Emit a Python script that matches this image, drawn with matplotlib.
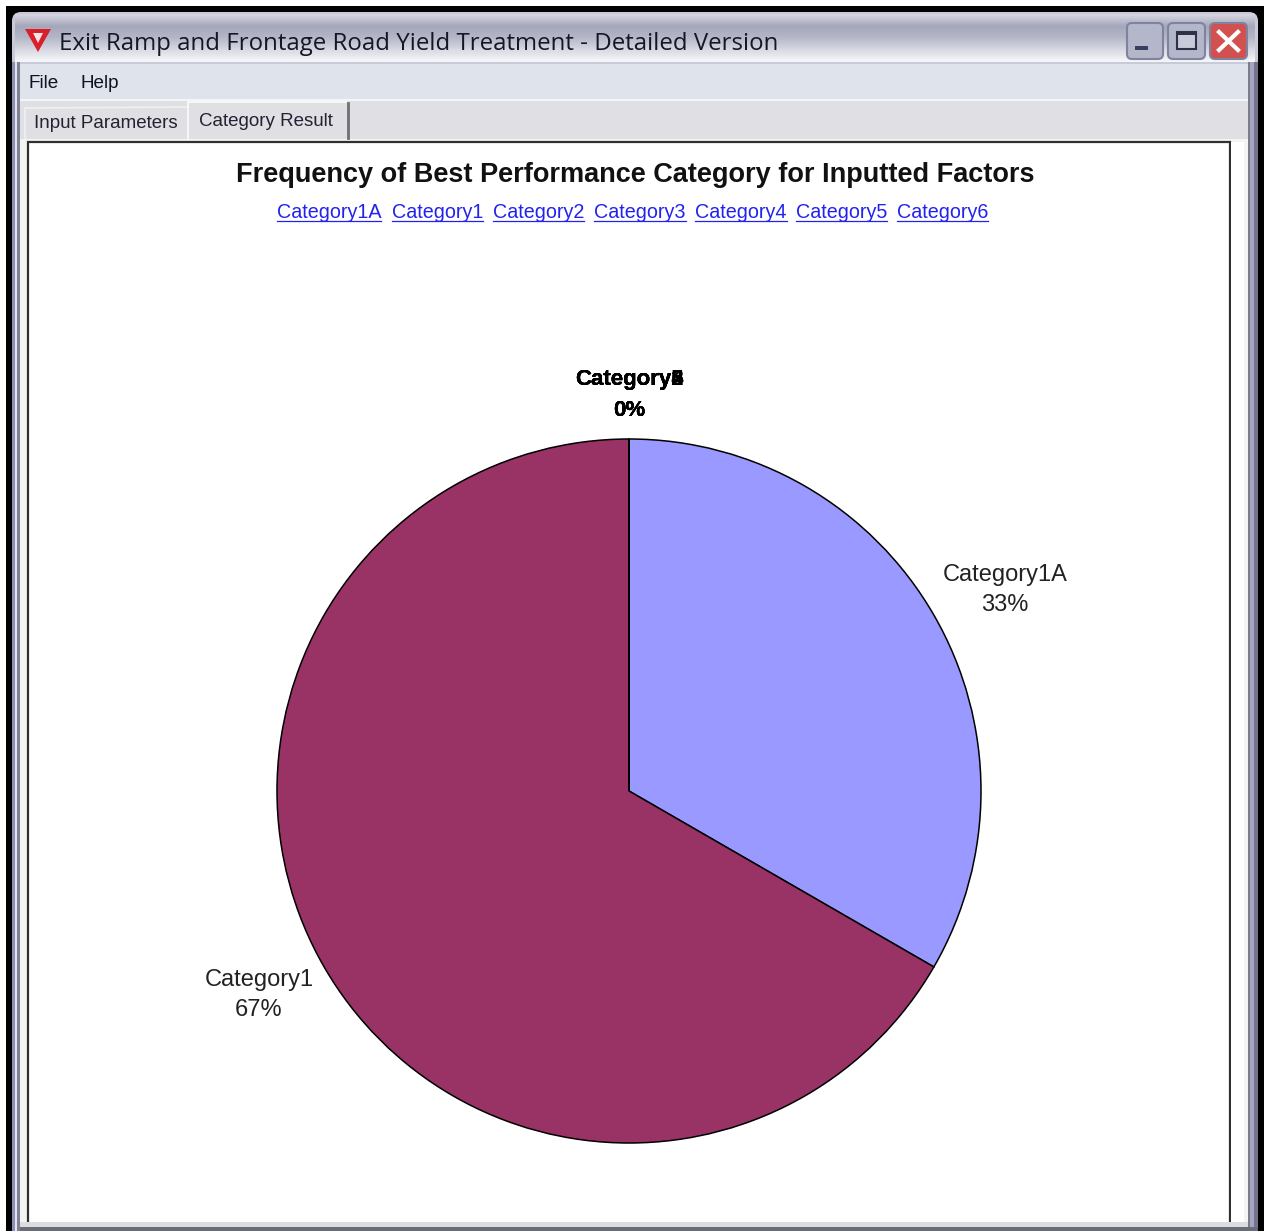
import numpy as np
import matplotlib
matplotlib.use("Agg")
import matplotlib.pyplot as plt
from matplotlib.colors import LinearSegmentedColormap
from matplotlib.patches import Rectangle, FancyBboxPatch, Polygon

window_title = "Exit Ramp and Frontage Road Yield Treatment - Detailed Version"
menu_items = ["File", "Help"]
tab_names = ["Input Parameters", "Category Result"]
chart_title = "Frequency of Best Performance Category for Inputted Factors"

categories = ["Category1A", "Category1", "Category2", "Category3", "Category4", "Category5", "Category6"]
shares = [33.33, 66.67, 0, 0, 0, 0, 0]
share_labels = ["33%", "67%", "0%", "0%", "0%", "0%", "0%"]
colors = ["#9999FF", "#993366", "#FFFFCC", "#CCFFFF", "#660066", "#FF8080", "#0066CC"]

W, H = 1264, 1231
fig = plt.figure(figsize=(W / 100, H / 100), dpi=100, facecolor="white")
bg = fig.add_axes([0, 0, 1, 1])
bg.axis("off")


def box(x0, y0, x1, y1, color, z=1):
    bg.add_patch(Rectangle((x0, y0), x1 - x0, y1 - y0, facecolor=color, edgecolor="none", zorder=z))


# black frame around the screenshot
box(6, 6, W, H, "black")

# window body with its side borders
bg.add_patch(FancyBboxPatch((12, 12), 1246, 1300, boxstyle="round,pad=0,rounding_size=9", mutation_scale=1,
                            facecolor="#C9CAD8", edgecolor="none", zorder=2))
grad = LinearSegmentedColormap.from_list("t", ["#D5D6E0", "#A4A6BA", "#B6B8C9", "#D8D9E2", "#F6F7F9"])
bg.imshow(np.linspace(0, 1, 50).reshape(-1, 1), extent=(15, 1255, 62, 14), aspect="auto", zorder=3, cmap=grad)
bg.set_xlim(0, W)
bg.set_ylim(H, 0)
box(12, 62, 15, H, "#8D8FB5", z=3)
box(15, 62, 17, H, "#E4E5EC", z=3)
box(17, 62, 20, H, "#7F8094", z=3)
box(1254, 62, 1258, H, "#74758A", z=3)
box(1250, 62, 1254, H, "#A3A5C2", z=3)
box(1248, 62, 1250, H, "#7C7D88", z=3)
box(20, 64, 1248, 99, "#DFE3EC", z=3)
box(20, 99, 1248, 101, "#F4F5F8", z=3)
box(20, 101, 1248, 139, "#E0DFE3", z=3)
box(20, 139, 1248, 1222, "#F4F4F2", z=3)

# content panel, the bottom bar covers its lower end
bg.add_patch(Rectangle((28, 141.5), 1202, 1200, facecolor="white", edgecolor="#303030", lw=1.6, zorder=4))
box(1231, 142, 1244, 1222, "white", z=4)
box(20, 1222, 1248, 1227, "#DDDDE0", z=5)
box(20, 1227, 1258, H, "#6A6C7A", z=5)

# title bar icon and text
bg.add_patch(Polygon([[25, 29], [51, 29], [38, 52]], facecolor="#D81F2A", edgecolor="none", zorder=5))
bg.add_patch(Polygon([[33, 33], [43, 33], [38, 43]], facecolor="#FBE4E4", edgecolor="none", zorder=6))
bg.text(59, 44.5, window_title, fontsize=17.3, family="Open Sans", fontweight="medium", color="#141826", va="center",
        ha="left", zorder=6)

# window buttons
for x0, x1, c in [(1127, 1163, "#B4B6CA"), (1168, 1205, "#B4B6CA"), (1210, 1247, "#D2504F")]:
    bg.add_patch(FancyBboxPatch((x0, 23), x1 - x0, 36, boxstyle="round,pad=0,rounding_size=5",
                                mutation_scale=1, facecolor=c, edgecolor="#7F83A0", lw=1.5, zorder=5))
box(1135, 46, 1148, 50, "#3A3D60", z=6)
bg.add_patch(Rectangle((1177, 32), 19, 17, facecolor="#C8CADA", edgecolor="#2E3048", lw=1.5, zorder=6))
box(1177, 32, 1196, 35, "#2E3048", z=6)
bg.plot([1219, 1238], [32, 50], color="white", lw=3, zorder=6)
bg.plot([1238, 1219], [32, 50], color="white", lw=3, zorder=6)

# menu
for name, x in zip(menu_items, [29, 80]):
    bg.text(x, 83, name, fontsize=13.6, family="Liberation Sans", color="#111122", va="center", zorder=6)

# tabs
box(25, 107, 188, 138, "#E0DFE3", z=5)
bg.plot([25, 25, 186, 188], [138, 108, 107, 107], color="#F0F0F2", lw=1.2, zorder=5)
bg.plot([188, 188, 346], [138, 102, 102], color="#F6F6F6", lw=1.5, zorder=5)
bg.plot([347.5, 347.5], [103, 138], color="#6F6F6F", lw=2, zorder=5)
bg.text(34, 124, tab_names[0], fontsize=13.5, family="Liberation Sans", color="#222233", va="center", zorder=6)
bg.text(199, 121, tab_names[1], fontsize=13.5, family="Liberation Sans", color="#222233", va="center", zorder=6)

# chart heading and links
bg.text(635, 175, chart_title, fontsize=19.5, fontweight="bold", family="Liberation Sans", color="#111111",
        ha="center", va="center", zorder=6)
link_x = [277, 392, 493, 594, 695, 796, 897]
link_w = [104, 91, 91, 92, 92, 91, 91]
for name, x, w in zip(categories, link_x, link_w):
    bg.text(x, 213, name, fontsize=14.2, family="Liberation Sans", color="#2222EE", va="center", zorder=6)
    bg.plot([x, x + w], [221, 221], color="#2222EE", lw=0.9, zorder=6)

# pie
R = 352
cx, cy = 629, 791
ax = fig.add_axes([(cx - R) / W, 1 - (cy + R) / H, 2 * R / W, 2 * R / H], zorder=5)
ax.pie(shares, colors=colors, startangle=90, counterclock=False, radius=1,
       wedgeprops={"edgecolor": "black", "linewidth": 1.1})
ax.set_xlim(-1, 1)
ax.set_ylim(-1, 1)
ax.set_aspect("equal")

# pie labels, the zero slices all land on the same spot at the top
label_pos = [(1005, 590), (259, 995), (629, 395), (629, 395), (629, 395), (629, 395), (629, 395)]
for name, lab, (x, y) in zip(categories, share_labels, label_pos):
    zero = lab == "0%"
    col = "black" if zero else "#222222"
    wt = "bold" if zero else "normal"
    size = 16 if zero else 17
    bg.text(x, y - 15, name, fontsize=size, fontweight=wt, family="Liberation Sans", color=col, ha="center", va="center", zorder=6)
    bg.text(x, y + 15, lab, fontsize=size, fontweight=wt, family="Liberation Sans", color=col, ha="center", va="center", zorder=6)

fig.savefig("out.png", dpi=100)
